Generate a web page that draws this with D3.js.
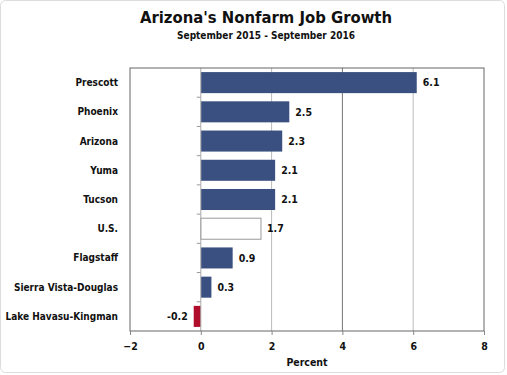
<!DOCTYPE html>
<html>
<head>
<meta charset="utf-8">
<script src="https://cdn.jsdelivr.net/npm/d3@7"></script>
<style>
  body { margin: 0; background: #fff; }
  text { font-family: "DejaVu Sans Condensed", "DejaVu Sans", sans-serif; font-weight: bold; fill: #111; }
</style>
</head>
<body>
<script>
// data
const areas = ['Prescott', 'Phoenix', 'Arizona', 'Yuma', 'Tucson', 'U.S.', 'Flagstaff', 'Sierra Vista-Douglas', 'Lake Havasu-Kingman'];
const growth = [6.1, 2.5, 2.3, 2.1, 2.1, 1.7, 0.9, 0.3, -0.2];
const xTicks = [-2, 0, 2, 4, 6, 8];

const W = 507, H = 375;
const plot = { left: 130, right: 484, top: 68, bottom: 331 };

const svg = d3.select('body').append('svg')
  .attr('width', W)
  .attr('height', H);

// outer frame
svg.append('rect')
  .attr('x', 0.5).attr('y', 0.5)
  .attr('width', W - 3).attr('height', H - 3)
  .attr('rx', 5)
  .attr('fill', '#fff')
  .attr('stroke', '#dcdcdc');

svg.append('text')
  .attr('x', 266).attr('y', 23)
  .attr('text-anchor', 'middle')
  .attr('font-size', 16.5)
  .text("Arizona's Nonfarm Job Growth");

svg.append('text')
  .attr('x', 266).attr('y', 39)
  .attr('text-anchor', 'middle')
  .attr('font-size', 10)
  .text('September 2015 - September 2016');

const x = d3.scaleLinear()
  .domain([-2, 8])
  .range([plot.left, plot.right]);

const y = d3.scaleBand()
  .domain(areas)
  .range([plot.top, plot.bottom])
  .paddingInner(0.28)
  .paddingOuter(0.14);

// vertical grid lines
svg.append('g')
  .selectAll('line')
  .data(xTicks.filter(t => t > 0 && t < 8))
  .join('line')
  .attr('x1', d => x(d)).attr('x2', d => x(d))
  .attr('y1', plot.top).attr('y2', plot.bottom)
  .attr('stroke', d => d === 4 ? '#777' : '#bbb')
  .attr('stroke-width', 1);

// bars
const rows = areas.map((a, i) => ({ area: a, value: growth[i] }));

svg.append('g')
  .selectAll('rect')
  .data(rows)
  .join('rect')
  .attr('x', d => x(Math.min(0, d.value)))
  .attr('y', d => y(d.area))
  .attr('width', d => Math.abs(x(d.value) - x(0)))
  .attr('height', y.bandwidth())
  .attr('fill', d => d.area === 'U.S.' ? '#fff' : d.value < 0 ? '#b00d2b' : '#3a5080')
  .attr('stroke', d => d.area === 'U.S.' ? '#999' : 'none');

// value labels
svg.append('g')
  .selectAll('text')
  .data(rows)
  .join('text')
  .attr('x', d => d.value < 0 ? x(d.value) - 6 : x(d.value) + 6)
  .attr('y', d => y(d.area) + y.bandwidth() / 2)
  .attr('dy', '0.35em')
  .attr('text-anchor', d => d.value < 0 ? 'end' : 'start')
  .attr('font-size', 10.5)
  .text(d => d.value.toFixed(1));

// zero axis with category ticks
const zeroAxis = d3.axisLeft(y).tickSize(4).tickFormat('');
const zg = svg.append('g')
  .attr('transform', `translate(${x(0)},0)`)
  .call(zeroAxis);
zg.select('.domain').remove();
zg.selectAll('.tick').attr('transform', d => `translate(0,${y(d) - y.step() * y.paddingInner() / 2})`);
zg.selectAll('.tick').filter((d, i) => i === 0).remove();
zg.selectAll('line').attr('stroke', '#999');
svg.append('line')
  .attr('x1', x(0)).attr('x2', x(0))
  .attr('y1', plot.top).attr('y2', plot.bottom)
  .attr('stroke', '#aaa');

// plot frame
svg.append('rect')
  .attr('x', plot.left).attr('y', plot.top)
  .attr('width', plot.right - plot.left)
  .attr('height', plot.bottom - plot.top)
  .attr('fill', 'none')
  .attr('stroke', '#666');

// category labels
svg.append('g')
  .selectAll('text')
  .data(areas)
  .join('text')
  .attr('x', 118)
  .attr('y', d => y(d) + y.bandwidth() / 2)
  .attr('dy', '0.35em')
  .attr('text-anchor', 'end')
  .attr('font-size', 10)
  .text(d => d);

// x axis
const xAxis = d3.axisBottom(x)
  .tickValues(xTicks)
  .tickSize(4)
  .tickPadding(8);

const xg = svg.append('g')
  .attr('transform', `translate(0,${plot.bottom})`)
  .call(xAxis);
xg.select('.domain').remove();
xg.selectAll('line').attr('stroke', '#888');
xg.selectAll('text')
  .attr('font-size', 10.5)
  .attr('font-family', null);

svg.append('text')
  .attr('x', 307).attr('y', 366)
  .attr('text-anchor', 'middle')
  .attr('font-size', 10.5)
  .text('Percent');
</script>
</body>
</html>
